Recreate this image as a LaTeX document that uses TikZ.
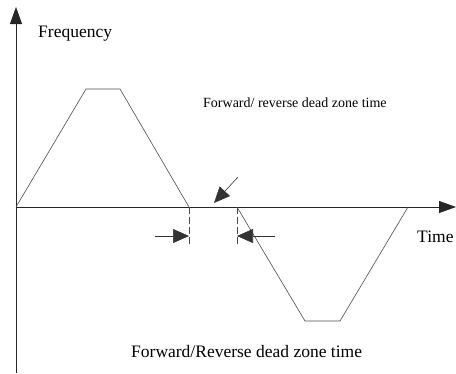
\documentclass[tikz,border=0pt]{standalone}
\usepackage{fontspec}
\setmainfont{Liberation Serif}
\usetikzlibrary{arrows.meta, positioning}

\begin{document}
\begin{tikzpicture}[x=1pt, y=-1pt,
  axis/.style={draw=black!85, line width=0.9pt,
               -{Triangle[length=17pt, width=12pt]}},
  curve/.style={draw=black!70, line width=0.6pt},
  guide/.style={draw=black!70, line width=0.6pt, dash pattern=on 7pt off 3pt},
  marker/.style={draw=black!80, line width=0.6pt,
                 -{Triangle[length=16pt, width=14pt]}},
  lbl/.style={inner sep=0pt, font=\fontsize{17.5}{20}\selectfont},
]
  \useasboundingbox (0,0) rectangle (456,373);

  % === Axes ===
  \coordinate (origin) at (16,207);
  \coordinate (ytop)   at (16,7);
  \coordinate (ybot)   at (16,373);
  \coordinate (xend)   at (456,207);
  \draw[axis] (ybot) -- (ytop);
  \draw[axis] (origin) -- (xend);

  \node[lbl, anchor=west] (freq) at (38,34) {Frequency};
  \node[lbl, anchor=west] (time) at (417,237) {Time};

  % === Forward run ===
  \coordinate (f1) at (86,89);
  \coordinate (f2) at (120,89);
  \coordinate (f3) at (189,207);
  \draw[curve] (origin) -- (f1) -- (f2) -- (f3);

  % === Reverse run ===
  \coordinate (r0) at (237,207);
  \coordinate (r1) at (305,321);
  \coordinate (r2) at (340,321);
  \coordinate (r3) at (408,207);
  \draw[curve] (r0) -- (r1) -- (r2) -- (r3);

  % === Dead zone markers ===
  \coordinate (g1) at (189,246);
  \coordinate (g2) at (237,246);
  \draw[guide] (f3) -- (g1);
  \draw[guide] (r0) -- (g2);

  \coordinate (ml) at (155,236);
  \coordinate (mr) at (275,236);
  \coordinate (ma) at (189,236);
  \coordinate (mb) at (237,236);
  \draw[marker] (ml) -- (ma);
  \draw[marker] (mr) -- (mb);

  \coordinate (pa) at (238,177);
  \coordinate (pb) at (214,203);
  \draw[marker] (pa) -- (pb);

  % === Labels ===
  \node[lbl, anchor=west, font=\fontsize{14}{16}\selectfont]
    (dzTop) at (203,103) {Forward/ reverse dead zone time};
  \node[lbl, anchor=west] (dzBot) at (131,352)
    {Forward/Reverse dead zone time};
\end{tikzpicture}
\end{document}
